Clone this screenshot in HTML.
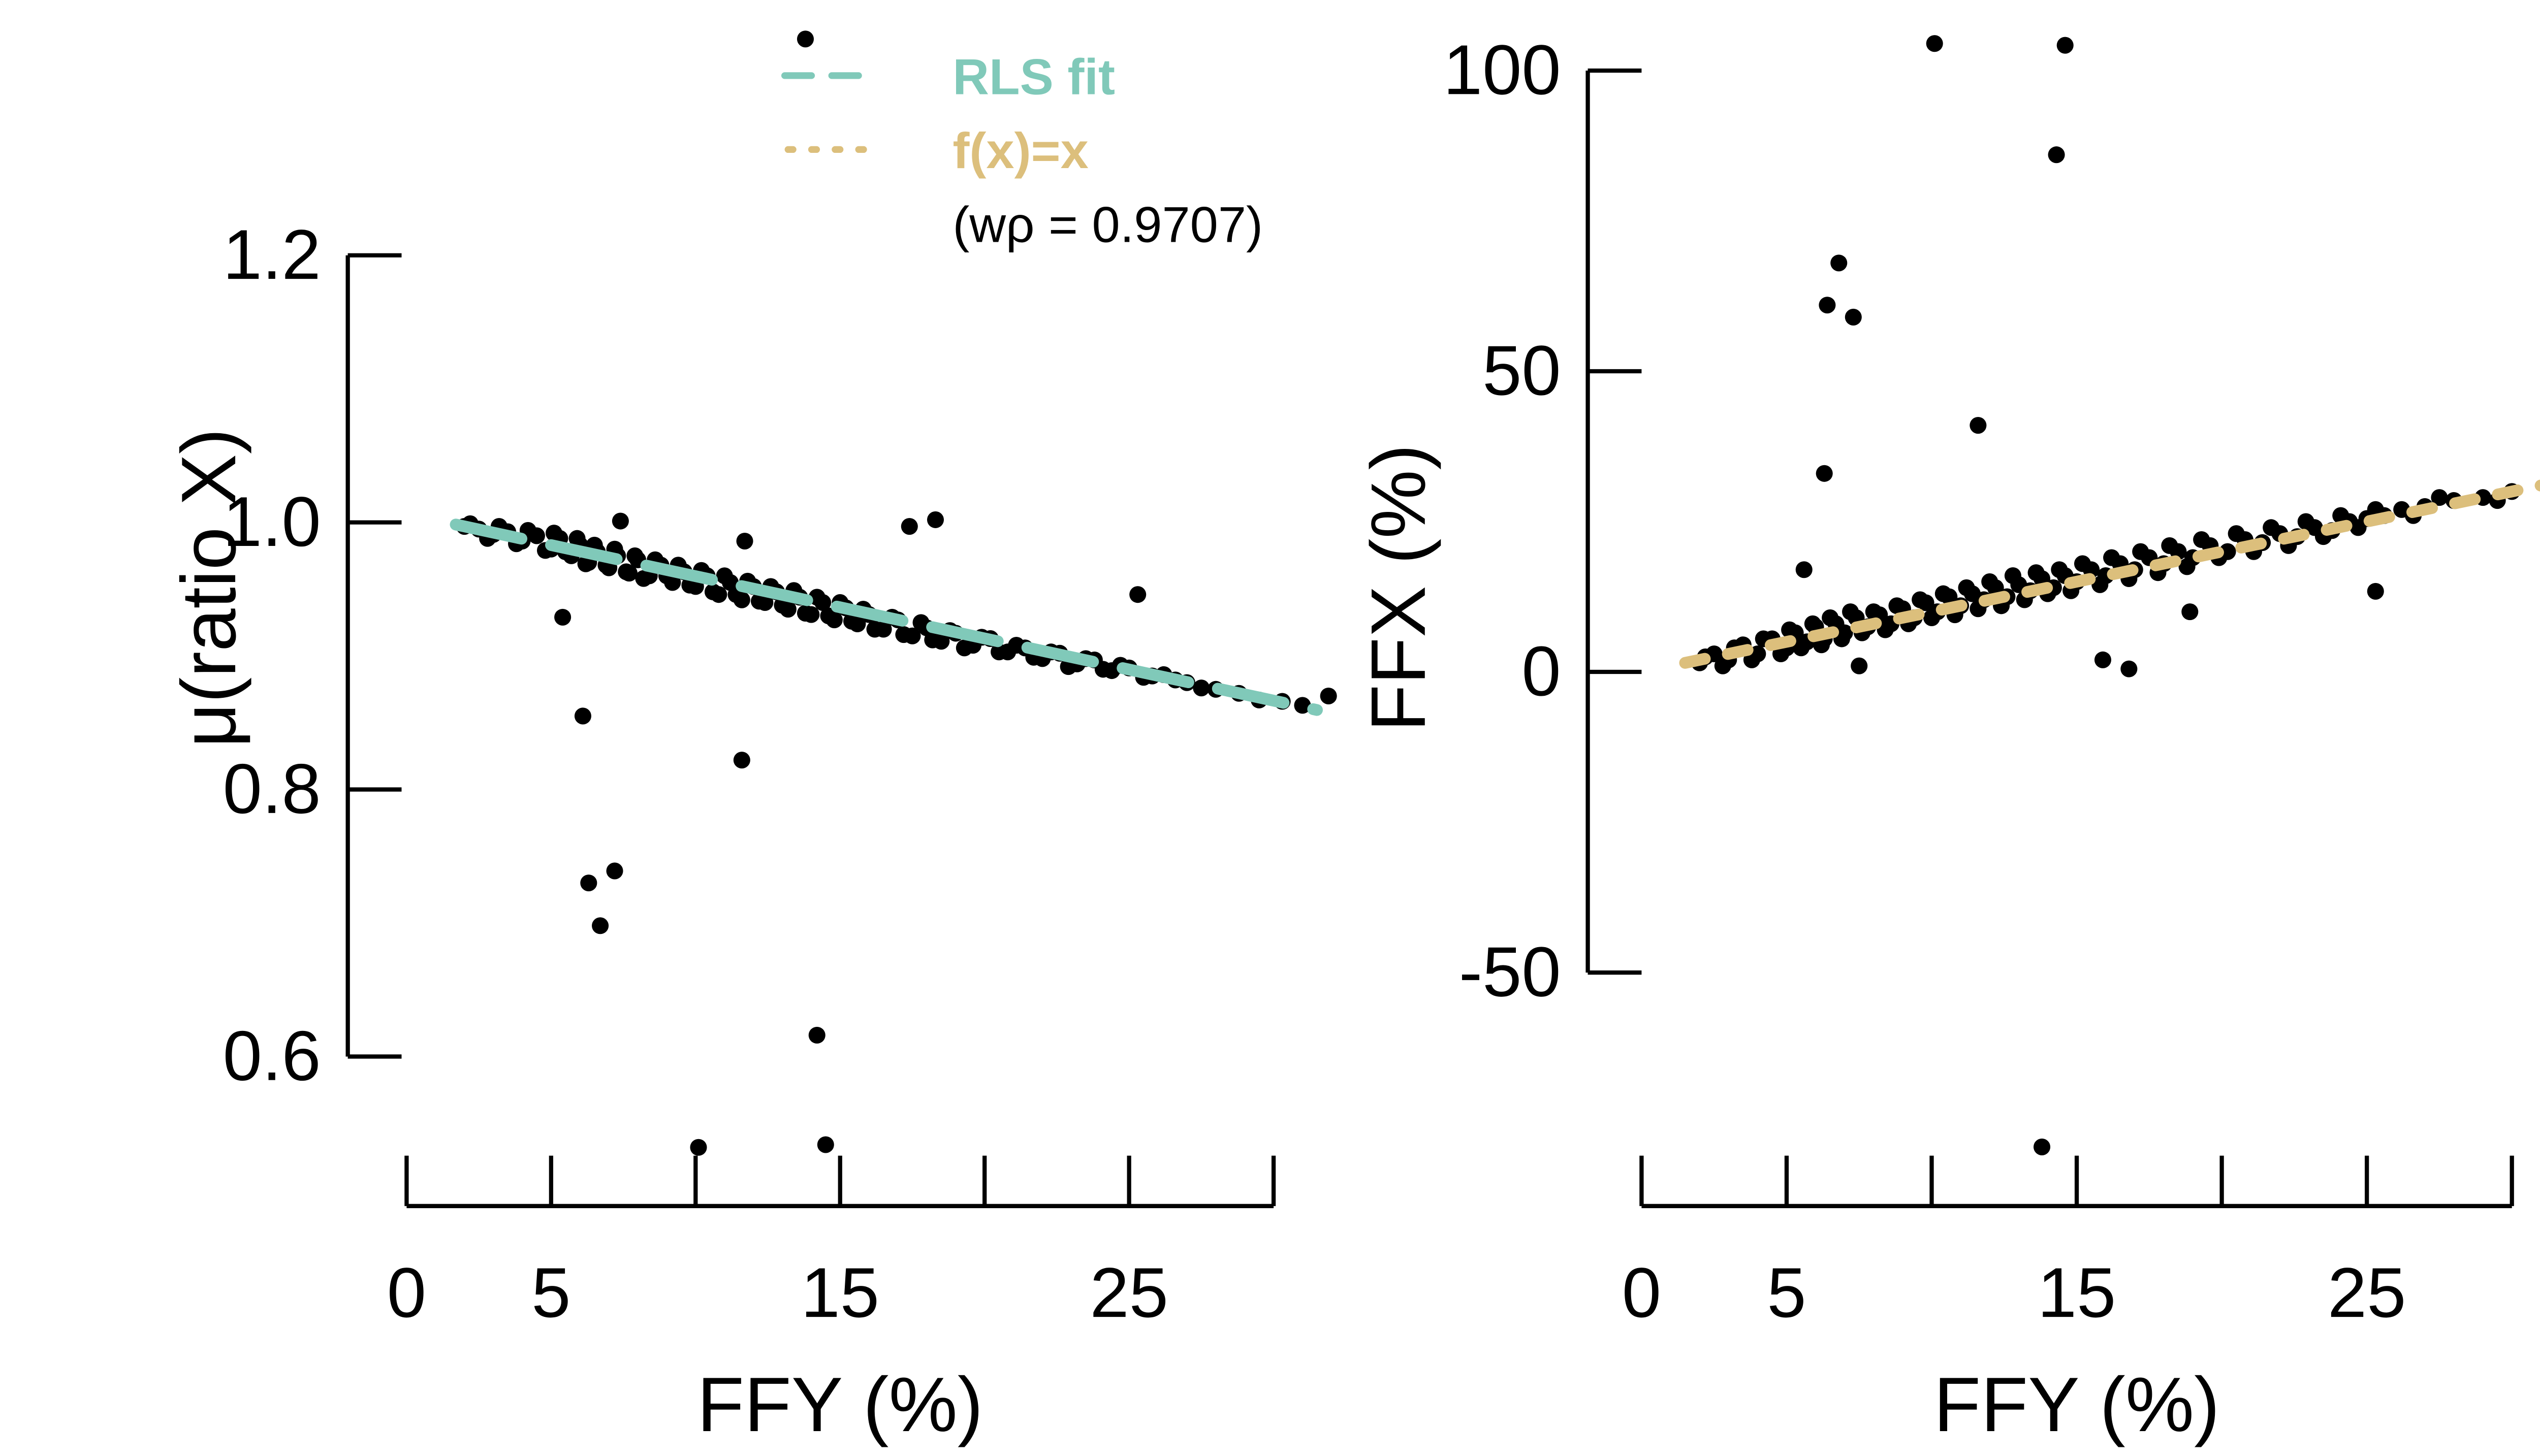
<!DOCTYPE html>
<html><head><meta charset="utf-8"><style>
html,body{margin:0;padding:0;background:#fff;}
svg{display:block;font-family:"Liberation Sans",sans-serif;}
</style></head><body>
<svg id="chart" width="5120" height="2867" viewBox="0 0 1548 866.8" xmlns="http://www.w3.org/2000/svg">
<g id="left"></g>
<g id="right"></g>
<g id="legend">
  <line x1="467" y1="45" x2="522" y2="45" stroke="#80c9b9" stroke-width="4" stroke-dasharray="16,12" stroke-linecap="round"/>
  <text x="567" y="56" font-size="30" font-weight="bold" fill="#80c9b9">RLS fit</text>
  <line x1="469" y1="89" x2="524" y2="89" stroke="#dcbf7c" stroke-width="4" stroke-dasharray="3,11" stroke-linecap="round"/>
  <text x="567" y="100" font-size="30" font-weight="bold" fill="#dcbf7c">f(x)=x</text>
  <text x="567" y="144" font-size="30" fill="#000">(wρ = 0.9707)</text>
</g>
</svg>
<script>
const leftX=[2,2.5,3,3.5,4,4.5,5,5.3,5.7,6,6.3,6.6,7,7.3,7.7,8,8.4,8.8,9.2,9.6,10,10.4,10.8,11.2,11.6,12,12.4,12.8,13.2,13.6,14,14.4,14.8,15.2,15.6,16,16.5,17,17.5,18,18.5,19,19.6,20.2,20.8,21.4,22,22.6,23.2,23.8,24.4,25,25.5,26.2,27,28,28.8,30.3,31,
 2.2,2.8,3.2,3.8,4.2,4.8,5.1,5.5,5.9,6.2,6.5,6.9,7.2,7.6,7.9,8.2,8.6,9,9.4,9.8,10.2,10.6,11,11.4,11.8,12.2,12.6,13,13.4,13.8,14.2,14.6,15,15.4,15.8,16.2,16.8,17.2,17.8,18.2,18.8,19.3,19.9,20.5,21.1,21.7,22.3,22.9,23.5,24.1,24.7,25.8,26.6,27.5,29.5,
 13.8,6.1,6.3,7.2,6.7,11.6,14.2,10.1,14.5,17.4,18.3,25.3,7.4,5.4,11.7,31.9];
const leftY=[0.997,0.995,0.991,0.993,0.986,0.990,0.980,0.988,0.975,0.983,0.970,0.978,0.966,0.975,0.962,0.972,0.960,0.968,0.955,0.963,0.952,0.960,0.946,0.955,0.942,0.952,0.940,0.948,0.935,0.944,0.931,0.940,0.927,0.936,0.924,0.931,0.920,0.927,0.915,0.921,0.911,0.917,0.908,0.913,0.903,0.906,0.898,0.902,0.894,0.897,0.889,0.891,0.884,0.886,0.880,0.875,0.872,0.866,0.863,
 0.999,0.988,0.997,0.984,0.994,0.979,0.992,0.978,0.988,0.969,0.983,0.968,0.980,0.963,0.975,0.958,0.972,0.960,0.968,0.953,0.964,0.948,0.960,0.946,0.956,0.941,0.952,0.938,0.949,0.932,0.944,0.930,0.940,0.926,0.935,0.920,0.929,0.916,0.925,0.912,0.919,0.906,0.914,0.903,0.908,0.899,0.903,0.892,0.898,0.890,0.893,0.885,0.882,0.876,0.867,
 1.362,0.855,0.730,0.739,0.698,0.822,0.616,0.532,0.534,0.997,1.002,0.946,1.001,0.929,0.986,0.870];
const rightX=[2,2.5,3,3.5,4,4.5,5,5.3,5.7,6,6.3,6.7,7,7.4,7.8,8.2,8.6,9,9.4,9.8,10.2,10.6,11,11.4,11.8,12.2,12.6,13,13.4,13.8,14.2,14.6,15,15.5,16,16.5,17,17.5,18,18.5,19,19.6,20.2,20.8,21.4,22,22.6,23.2,23.8,24.4,25,25.6,26.2,27,28,29,30,31.5,
 2.2,2.8,3.2,3.8,4.2,4.8,5.1,5.5,5.9,6.2,6.5,6.9,7.2,7.6,8,8.4,8.8,9.2,9.6,10,10.4,10.8,11.2,11.6,12,12.4,12.8,13.2,13.6,14,14.4,14.8,15.2,15.8,16.2,16.8,17.2,17.8,18.2,18.8,19.3,19.9,20.5,21.1,21.7,22.3,22.9,23.5,24.1,24.7,25.3,26.6,27.5,29.5,
 10.1,14.6,14.3,6.8,6.4,7.3,6.3,11.6,5.6,13.8,15.9,16.8,7.5,25.3,31.7,18.9];
const rightY=[1.5,3,2,4.5,3,5.5,4,6.5,5,7.5,5.5,8,6.5,9,7.5,9.5,8,10.5,9,11.5,10,12.5,11,13,12,14,12.5,14.5,13.5,15.5,14,16,15,17,16,18,17,19,18,20,19,21,20,22,21.5,23,22.5,24,23.5,25,25.5,26,27,27.5,28.5,29,30,31,
 2.5,1,4,2,5.5,3,7,4,8,4.5,9,5.5,10,6.5,10,7,11,8,12,9,13,9.5,14,10.5,15,11,16,12,16.5,13,17,13.5,18,14.5,19,15.5,20,16.5,21,17.5,22,19,23,20,24,21,25,22.5,26,24,27,26,29,28.5,
 104.5,104.2,86,68,61,59,33,41,17,-79,2,0.5,1,13.4,30.4,10];
const xTicks=[0,5,10,15,20,25,30];
const xTickLabels=["0","5","","15","","25",""];
const leftYTicks=[0.6,0.8,1.0,1.2];
const leftYLabels=["0.6","0.8","1.0","1.2"];
const rightYTicks=[-50,0,50,100];
const rightYLabels=["-50","0","50","100"];
const fitX=[1.7,31.5];
const fitSlope=-0.00466, fitIntercept=1.00632;
const identX=[1.5,31.5];

const NS="http://www.w3.org/2000/svg";
function mk(parent,tag,attrs){const e=document.createElementNS(NS,tag);for(const k in attrs)e.setAttribute(k,attrs[k]);parent.appendChild(e);return e;}

function panel(g,cfg){
  const sx=v=>cfg.x0+(v-0)*(cfg.x1-cfg.x0)/30;
  const sy=v=>cfg.yA+(v-cfg.vA)*(cfg.yB-cfg.yA)/(cfg.vB-cfg.vA);
  const ya=mk(g,'line',{x1:cfg.yaxX,x2:cfg.yaxX,y1:sy(cfg.yTicks[cfg.yTicks.length-1]),y2:sy(cfg.yTicks[0]),stroke:'#000','stroke-width':2.5});
  
  
  cfg.yTicks.forEach((t,i)=>{
    const l=mk(g,'line',{x1:cfg.yaxX,x2:cfg.yaxX+32,y1:sy(t),y2:sy(t),stroke:'#000','stroke-width':2.5});
    
    
    const tx=mk(g,'text',{x:cfg.yaxX-16,y:sy(t)+14,'font-size':42,'text-anchor':'end'});
    tx.textContent=cfg.yLabels[i];
    
    
  });
  const xa=mk(g,'line',{x1:sx(0),x2:sx(30),y1:718,y2:718,stroke:'#000','stroke-width':2.5});
  
  
  xTicks.forEach((t,i)=>{
    const l=mk(g,'line',{x1:sx(t),x2:sx(t),y1:688,y2:718,stroke:'#000','stroke-width':2.5});
    
    
    if(xTickLabels[i]){
      const tx=mk(g,'text',{x:sx(t),y:784,'font-size':42,'text-anchor':'middle'});
      tx.textContent=xTickLabels[i];
      
      
    }
  });
  const xt=mk(g,'text',{x:(sx(0)+sx(30))/2,y:852,'font-size':46,'text-anchor':'middle'});
  xt.textContent='FFY (%)';
  
  
  const yt=mk(g,'text',{x:0,y:0,'font-size':46,'text-anchor':'middle',transform:`translate(${cfg.titleX},350) rotate(-90)`});
  yt.textContent=cfg.yTitle;
  
  
  cfg.px.forEach((v,i)=>{
    const c=mk(g,'circle',{cx:sx(v),cy:sy(cfg.py[i]),r:cfg.r||4.2,fill:'#000'});
    
    
  });
  return {sx,sy};
}
const L=panel(document.getElementById('left'),{x0:242,x1:758,yaxX:207,yA:311,vA:1.0,yB:470,vB:0.8,yTicks:leftYTicks,yLabels:leftYLabels,yTitle:'μ(ratio X)',titleX:140,px:leftX,py:leftY,r:5});
const fl=mk(document.getElementById('left'),'line',{x1:L.sx(fitX[0]),y1:L.sy(fitIntercept+fitSlope*fitX[0]),x2:L.sx(fitX[1]),y2:L.sy(fitIntercept+fitSlope*fitX[1]),stroke:'#80c9b9','stroke-width':7,'stroke-dasharray':'40,18','stroke-linecap':'round'});


const R=panel(document.getElementById('right'),{x0:977,x1:1495,yaxX:945,yA:400,vA:0,yB:221,vB:50,yTicks:rightYTicks,yLabels:rightYLabels,yTitle:'FFX (%)',titleX:848,px:rightX,py:rightY,r:5});
const il=mk(document.getElementById('right'),'line',{x1:R.sx(identX[0]),y1:R.sy(identX[0]),x2:R.sx(identX[1]),y2:R.sy(identX[1]),stroke:'#dcbf7c','stroke-width':7,'stroke-dasharray':'12,14','stroke-linecap':'round'});


</script>
</body></html>
